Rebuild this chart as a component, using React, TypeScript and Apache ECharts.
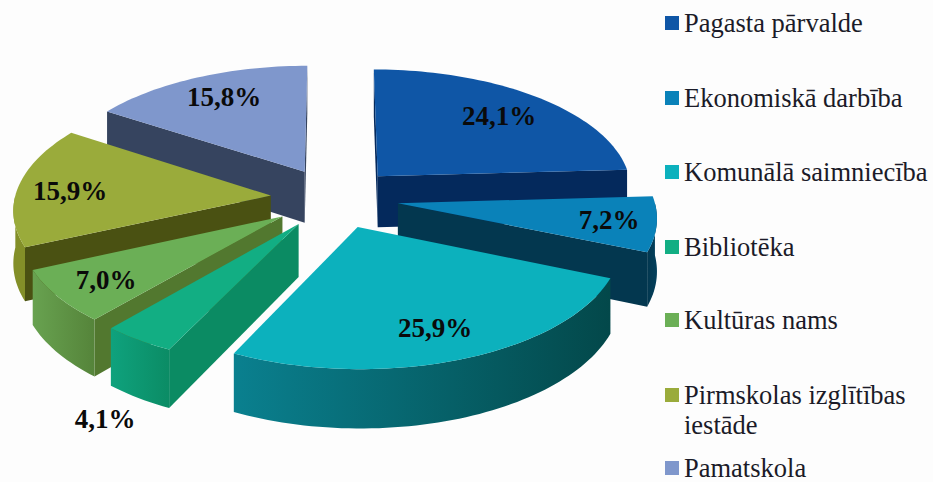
import React, { useEffect, useRef } from "react";
import * as echarts from "echarts";

const categories = [
  "Pagasta pārvalde",
  "Ekonomiskā darbība",
  "Komunālā saimniecība",
  "Bibliotēka",
  "Kultūras nams",
  "Pirmskolas izglītības\niestāde",
  "Pamatskola",
];
const shares = [24.1, 7.2, 25.9, 4.1, 7.0, 15.9, 15.8];

const topColors = ["#0F56A6", "#0A82B9", "#0CB1BD", "#12AE83", "#6BAF56", "#9AAB3B", "#7F97CC"];
const wallColors = ["#04295C", "#03374F", "#034F50", "#0B8B63", "#52782F", "#4A5112", "#36445F"];
const rimLeft = ["#04295C", "#03374F", "#0A808F", "#0FA27D", "#68A250", "#838F28", "#36445F"];
const rimRight = ["#04295C", "#03405C", "#03484A", "#0B8C65", "#55843A", "#838F28", "#36445F"];

const labelX = [499, 609, 435, 105, 106, 70, 224];
const labelY = [116, 220, 328, 419, 280, 191, 97];
const legendY = [23, 98, 172, 247, 320, 395, 468];

const CX = 334.5, CY = 198, R = 256, EXPLODE = 64, TILT = 0.475, PERSP = 0.1, DEPTH = 52;
const FONT = '"Liberation Serif", "Times New Roman", serif';
const RAD = Math.PI / 180;

const total = shares.reduce((a, b) => a + b, 0);
const startAngles = shares.map((_, i) => (shares.slice(0, i).reduce((a, b) => a + b, 0) / total) * 360);
const endAngles = shares.map((v, i) => startAngles[i] + (v / total) * 360);
const midCos = shares.map((_, i) => Math.cos(((startAngles[i] + endAngles[i]) / 2) * RAD));
// painter's order: far slices first
const drawOrder = shares.map((_, i) => i).sort((a, b) => midCos[b] - midCos[a]);

function project(X: number, Z: number, drop = 0): number[] {
  const f = 1 / (1 - (PERSP * Z) / R);
  return [CX + X * f, CY + Z * TILT * f + drop * f];
}

function renderSlice(_params: any, api: any) {
  const i = api.value(1) as number;
  const a0 = startAngles[i];
  const a1 = endAngles[i];
  const mid = ((a0 + a1) / 2) * RAD;
  const ox = EXPLODE * Math.sin(mid);
  const oz = -EXPLODE * Math.cos(mid);
  const rimPoint = (deg: number, drop = 0) =>
    project(ox + R * Math.sin(deg * RAD), oz - R * Math.cos(deg * RAD), drop);
  const apex = (drop = 0) => project(ox, oz, drop);
  const arc = (from: number, to: number, drop = 0) => {
    const n = Math.max(2, Math.ceil(Math.abs(to - from) / 1.5));
    const pts: number[][] = [];
    for (let k = 0; k <= n; k++) pts.push(rimPoint(from + ((to - from) * k) / n, drop));
    return pts;
  };
  const children: any[] = [];
  const wall = (deg: number) => ({
    type: "polygon",
    shape: { points: [apex(), rimPoint(deg), rimPoint(deg, DEPTH), apex(DEPTH)] },
    style: { fill: wallColors[i] },
  });
  if (rimPoint(a0)[0] < apex()[0]) children.push(wall(a0));
  if (rimPoint(a1)[0] > apex()[0]) children.push(wall(a1));
  const r0 = Math.max(a0, 90);
  const r1 = Math.min(a1, 270);
  if (r1 > r0) {
    children.push({
      type: "polygon",
      shape: { points: [...arc(r0, r1), ...arc(r1, r0, DEPTH)] },
      style: {
        fill: new echarts.graphic.LinearGradient(0, 0, 1, 0, [
          { offset: 0, color: rimLeft[i] },
          { offset: 1, color: rimRight[i] },
        ]),
      },
    });
  }
  children.push({
    type: "polygon",
    shape: { points: [apex(), ...arc(a0, a1)] },
    style: { fill: topColors[i] },
  });
  children.push({
    type: "text",
    style: {
      text: (api.value(0) as number).toFixed(1).replace(".", ",") + "%",
      x: labelX[i],
      y: labelY[i],
      align: "center",
      verticalAlign: "middle",
      font: `bold 27px ${FONT}`,
      fill: "#0A0A0A",
    },
  });
  return { type: "group", children };
}

const legendGraphics = categories.flatMap((name, i) => [
  {
    type: "rect",
    shape: { x: 665, y: legendY[i] - 7, width: 14, height: 14 },
    style: { fill: topColors[i] },
  },
  {
    type: "text",
    style: {
      text: name,
      x: 684,
      y: legendY[i] - 15,
      font: `26.5px ${FONT}`,
      lineHeight: 30,
      fill: "#1B1B28",
      align: "left",
      verticalAlign: "top",
    },
  },
]);

export default function App() {
  const ref = useRef<HTMLDivElement>(null);
  useEffect(() => {
    const chart = echarts.init(ref.current!, null, { renderer: "svg" });
    chart.setOption({
      animation: false,
      backgroundColor: "#FDFDFD",
      graphic: { elements: legendGraphics },
      series: [
        {
          type: "custom",
          coordinateSystem: "none",
          renderItem: renderSlice,
          silent: true,
          data: drawOrder.map((i) => [shares[i], i]),
        },
      ],
    });
    return () => chart.dispose();
  }, []);
  return <div ref={ref} style={{ position: "fixed", left: 0, top: 0, width: 933, height: 482 }} />;
}
